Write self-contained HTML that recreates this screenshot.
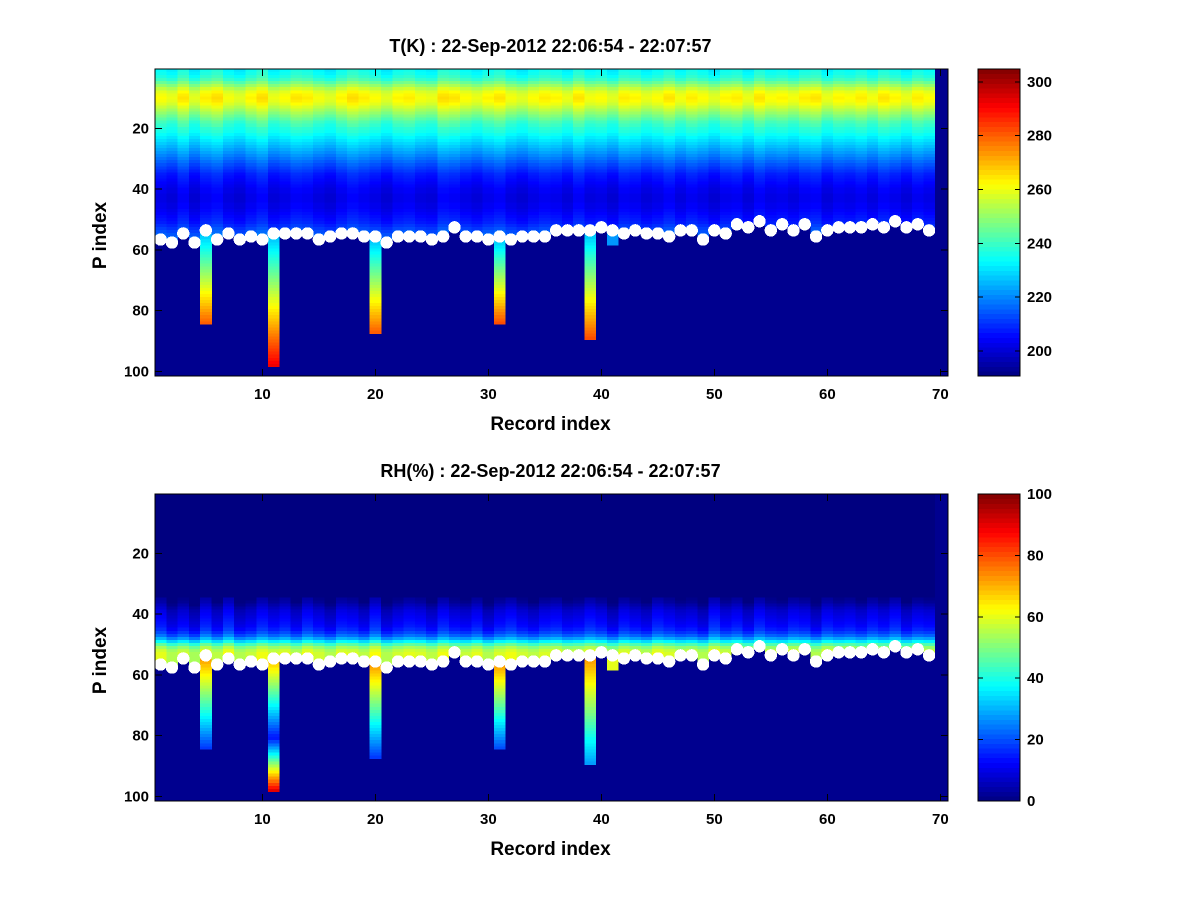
<!DOCTYPE html>
<html><head><meta charset="utf-8"><style>
body{margin:0;background:#fff;}
svg text{font-family:"Liberation Sans",sans-serif;font-weight:bold;fill:#000;}
</style></head><body>
<svg id="fig" width="1200" height="900" viewBox="0 0 1200 900" shape-rendering="crispEdges">
<rect width="1200" height="900" fill="#fff"/>
</svg>
<script>
// ---- data ----
const surfaceIdx = [57,58,55,58,54,57,55,57,56,57,55,55,55,55,57,56,55,55,56,56,58,56,56,56,57,56,53,56,56,57,56,57,56,56,56,54,54,54,54,53,54,55,54,55,55,56,54,54,57,54,55,52,53,51,54,52,54,52,56,54,53,53,53,52,53,51,53,52,54];
const tProfile = [234,235,237,240,245,250,255,259,261,262,261,259,256,253,250,247,244,241,239,237,236,234,232,230,228,226,224,222,220,218,216,214,212,210,208,207,206,205,204,203,203,202,202,202,203,203,204,205,206,207,208,210,212,214,216,218,220,222];
const tOffset = [0,-2,3,-3,2,4,-1,-3,1,4,-2,0,3,2,-1,-3,1,4,2,0,-3,1,2,-1,-2,4,3,0,-2,1,3,-1,-3,0,2,1,-2,3,-1,0,-3,2,1,-2,0,3,-1,2,0,-3,1,2,-2,3,0,1,-1,2,3,-2,1,0,2,-1,3,1,-2,2,0,0];
const rhProfile = [0,0,0,0,0,0,0,0,0,0,0,0,0,0,0,0,0,0,0,0,0,0,0,0,0,0,0,0,0,0,0,0,0,0,1,2,4,6,8,9,10,11,12,13,15,18,22,28,36,45,52,56,58,58,58,58,58];
const rhOffset = [2,-3,0,-4,3,-2,4,-3,-1,3,0,2,-2,3,0,-3,2,1,-2,4,-3,0,2,1,-2,3,0,-1,2,-3,1,3,0,-2,1,2,-1,0,3,1,-3,2,0,-2,3,1,-1,0,-3,4,0,2,-2,3,0,-1,2,1,-3,2,0,1,-1,2,0,3,-2,1,0,0];
const spikeCols = [5,11,20,31,39,41];
const spikeEnd = [84,98,87,84,89,58];
const spikeTTop = [225,225,225,225,225,222];
const spikeTBot = [280,292,280,282,282,222];
const spikeRHTop = [74,70,74,74,74,60];
const spikeRHBot = [18,90,18,20,28,60];
const xTicks = [10,20,30,40,50,60,70];
const yTicks = [20,40,60,80,100];
const tcTicks = [200,220,240,260,280,300];
const rhcTicks = [0,20,40,60,80,100];
const nCols = 70, nRows = 101;

const NS = 'http://www.w3.org/2000/svg';
const svg = document.getElementById('fig');
function mk(tag, attrs, parent){const e=document.createElementNS(NS,tag);for(const k in attrs)e.setAttribute(k,attrs[k]);(parent||svg).appendChild(e);return e;}
function jet(v){
  v=Math.max(0,Math.min(1,v));
  const r=Math.max(0,Math.min(1,Math.min(4*v-1.5,-4*v+4.5)));
  const g=Math.max(0,Math.min(1,Math.min(4*v-0.5,-4*v+3.5)));
  const b=Math.max(0,Math.min(1,Math.min(4*v+0.5,-4*v+2.5)));
  return `rgb(${Math.round(r*255)},${Math.round(g*255)},${Math.round(b*255)})`;
}
function fieldValue(kind,c,r){
  if(c>surfaceIdx.length) return null;
  const s=surfaceIdx[c-1];
  if(r<s){
    if(kind==='t'){const p=tProfile[Math.min(r-1,tProfile.length-1)];return p+tOffset[c-1]*(r<20?1:0.7);}
    const p=rhProfile[Math.min(r-1,rhProfile.length-1)];return Math.max(0,p+(p>0?rhOffset[c-1]:0));
  }
  const k=spikeCols.indexOf(c);
  if(k>=0 && r<=spikeEnd[k]){
    const f=(r-s)/Math.max(1,spikeEnd[k]-s);
    if(kind==='t') return spikeTTop[k]+(spikeTBot[k]-spikeTTop[k])*f;
    if(c===11){
      return f<0.6? spikeRHTop[k]+(14-spikeRHTop[k])*(f/0.6) : 14+(spikeRHBot[k]-14)*((f-0.6)/0.4);
    }
    return spikeRHTop[k]+(spikeRHBot[k]-spikeRHTop[k])*f;
  }
  return null;
}
function panel(kind,top,vmin,vmax,title,cTicks){
  const L=155,W=793,H=307,T=top;
  const xs=v=>L+(v-0.5)*11.3;
  const ys=v=>T+(v-0.5)*(H/nRows);
  const g=mk('g',{});
  
  
  const bg=mk('rect',{x:L,y:T,width:W,height:H,fill:'#00008f'},g);
  
  
  const hm=mk('g',{},g);
  
  
  for(let c=1;c<=nCols;c++){
    for(let r=1;r<=nRows;r++){
      const v=fieldValue(kind,c,r);
      if(v===null) continue;
      const x0=xs(c-0.5), x1=Math.min(xs(c+0.5),L+W);
      const y0=ys(r-0.5), y1=Math.min(ys(r+0.5),T+H);
      if(y0>=T+H) continue;
      const cell=mk('rect',{x:x0.toFixed(2),y:Math.max(T,y0).toFixed(2),width:(x1-x0+0.3).toFixed(2),height:(y1-Math.max(T,y0)+0.3).toFixed(2),fill:jet((v-vmin)/(vmax-vmin))},hm);
      
      
    }
  }
  const dots=mk('g',{},g);
  
  
  surfaceIdx.forEach((s,i)=>{
    const d=mk('circle',{cx:xs(i+1),cy:ys(s-0.4),r:6.2,fill:'#fff'},dots);
    
    
  });
  const fr=mk('rect',{x:L,y:T,width:W,height:H,fill:'none',stroke:'#000','stroke-width':1},g);
  
  
  xTicks.forEach(v=>{
    const x=xs(v);
    mk('line',{x1:x,y1:T+H,x2:x,y2:T+H-7,stroke:'#000'},g);
    mk('line',{x1:x,y1:T,x2:x,y2:T+7,stroke:'#000'},g);
    const t=mk('text',{x:x,y:T+H+23,'text-anchor':'middle','font-size':15},g);
    t.textContent=v;
    
    
  });
  yTicks.forEach(v=>{
    const y=ys(v);
    mk('line',{x1:L,y1:y,x2:L+7,y2:y,stroke:'#000'},g);
    mk('line',{x1:L+W,y1:y,x2:L+W-7,y2:y,stroke:'#000'},g);
    const t=mk('text',{x:L-6,y:y+5,'text-anchor':'end','font-size':15},g);
    t.textContent=v;
    
    
  });
  const tt=mk('text',{x:L+W/2-1,y:T-17,'text-anchor':'middle','font-size':18},g);
  tt.textContent=title;
  
  
  const xl=mk('text',{x:L+W/2-1,y:T+H+54,'text-anchor':'middle','font-size':19},g);
  xl.textContent='Record index';
  
  
  const yl=mk('text',{x:0,y:0,'text-anchor':'middle','font-size':19,transform:`translate(106 ${T+H/2+13}) rotate(-90)`},g);
  yl.textContent='P index';
  
  
  const CL=978,CW=42;
  const cb=mk('g',{},g);
  
  
  const N=64;
  for(let i=0;i<N;i++){
    const y0=T+H-(i+1)*H/N;
    const seg=mk('rect',{x:CL,y:y0.toFixed(2),width:CW,height:(H/N+0.4).toFixed(2),fill:jet((i+0.5)/N)},cb);
    
    
  }
  mk('rect',{x:CL,y:T,width:CW,height:H,fill:'none',stroke:'#000'},cb);
  const cy=v=>T+H-(v-vmin)/(vmax-vmin)*H;
  cTicks.forEach(v=>{
    const y=cy(v);
    mk('line',{x1:CL,y1:y,x2:CL+5,y2:y,stroke:'#000'},cb);
    mk('line',{x1:CL+CW,y1:y,x2:CL+CW-5,y2:y,stroke:'#000'},cb);
    const t=mk('text',{x:CL+CW+7,y:y+5,'font-size':15},cb);
    t.textContent=v;
    
    
  });
}
panel('t',69,190.7,304.8,'T(K) : 22-Sep-2012 22:06:54 - 22:07:57',tcTicks);
panel('rh',494,0,100,'RH(%) : 22-Sep-2012 22:06:54 - 22:07:57',rhcTicks);
</script>
</body></html>
